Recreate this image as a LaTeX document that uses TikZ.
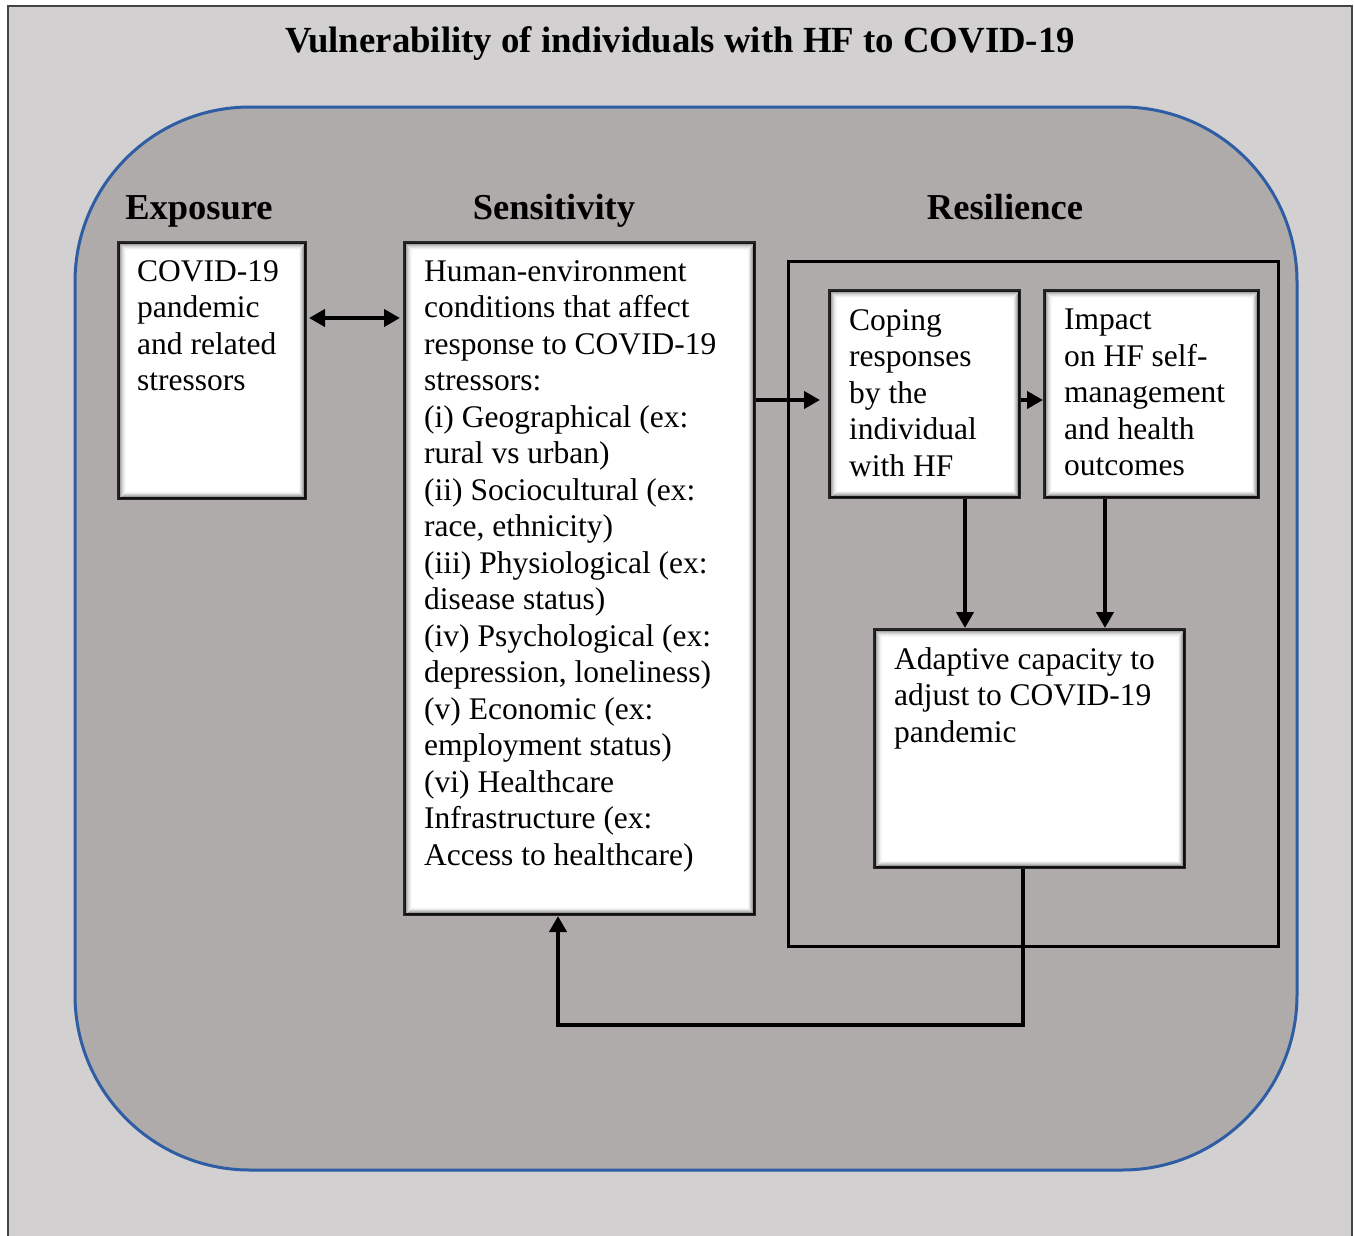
\documentclass[tikz,border=0pt]{standalone}
\usepackage{fontspec}
\setmainfont{Liberation Serif}
\usetikzlibrary{arrows.meta,calc}
\definecolor{pagegrey}{HTML}{D2D0D1}
\definecolor{panelgrey}{HTML}{AFABAA}
\definecolor{rimblue}{HTML}{2F5DA4}
\definecolor{framegrey}{HTML}{444444}
\newcommand{\bevelbox}[1]{%
  \foreach \k/\o in {2/0.45,3/0.34,4/0.25,5/0.17,6/0.11,7/0.06,8/0.03}{%
    \draw[line width=1pt, black, opacity=\o] ([shift={(\k,\k)}]#1.north west) rectangle ([shift={(-\k,-\k)}]#1.south east);}%
  \foreach \k/\o in {2/0.3,3/0.24,4/0.18,5/0.12,6/0.07,7/0.04}{%
    \draw[line width=1pt, black, opacity=\o] ([shift={(\k+1,-\k)}]#1.south west) -- ([shift={(-\k,-\k)}]#1.south east) -- ([shift={(-\k,\k+1)}]#1.north east);}%
}
\tikzset{
  wbox/.style={draw=black!85, line width=3pt, fill=white, rectangle, inner sep=0pt, anchor=north west},
  btext/.style={anchor=north west, inner sep=0pt, align=left, font=\fontsize{31.5}{36.5}\selectfont},
  head/.style={anchor=base, inner sep=0pt, font=\bfseries\fontsize{36.5}{40}\selectfont},
  conn/.style={line width=4.5pt, line join=miter, -{Triangle[length=16pt,width=17pt]}},
  dconn/.style={line width=4.5pt, {Triangle[length=16pt,width=17pt]}-{Triangle[length=16pt,width=17pt]}},
}
\begin{document}
\begin{tikzpicture}[x=1pt,y=-1pt]
\useasboundingbox (0,0) rectangle (1355,1235);
\clip (0,0) rectangle (1355,1235);
\fill[white] (0,0) rectangle (1355,1235);
\draw[framegrey, line width=2pt, fill=pagegrey] (8,6) rectangle (1352,1250);
\draw[fill=panelgrey, draw=rimblue, line width=3pt, rounded corners=175pt] (75,107) rectangle (1297,1170);

\node[head, font=\bfseries\fontsize{36.8}{40}\selectfont] (title) at (680,52) {Vulnerability of individuals with HF to COVID-19};
\node[head] (hexp) at (199,219) {Exposure};
\node[head] (hsen) at (554,219) {Sensitivity};
\node[head] (hres) at (1005,219) {Resilience};

\node[draw=black, line width=2.5pt, rectangle, inner sep=0pt, anchor=north west, minimum width=490, minimum height=685] (resil) at (787,260) {};

\node[wbox, minimum width=187, minimum height=256] (expo) at (117,241) {};
\node[wbox, minimum width=350, minimum height=672] (sens) at (403,241) {};
\node[wbox, minimum width=190, minimum height=207] (coping) at (828,289) {};
\node[wbox, minimum width=214, minimum height=207] (impact) at (1043,289) {};
\node[wbox, minimum width=310, minimum height=238] (adapt) at (873,628) {};
\bevelbox{expo}\bevelbox{sens}\bevelbox{coping}\bevelbox{impact}\bevelbox{adapt}

\node[btext] (expot) at ([shift={(20,19)}]expo.north west) {COVID-19\\pandemic\\and related\\stressors};
\node[btext] (senst) at ([shift={(21,19)}]sens.north west) {Human-environment\\conditions that affect\\response to COVID-19\\stressors:\\(i) Geographical (ex:\\rural vs urban)\\(ii) Sociocultural (ex:\\race, ethnicity)\\(iii) Physiological (ex:\\disease status)\\(iv) Psychological (ex:\\depression, loneliness)\\(v) Economic (ex:\\employment status)\\(vi) Healthcare\\Infrastructure (ex:\\Access to healthcare)};
\node[btext] (copingt) at ([shift={(21,20)}]coping.north west) {Coping\\responses\\by the\\individual\\with HF};
\node[btext] (impactt) at ([shift={(21,20)}]impact.north west) {Impact\\on HF self-\\management\\and health\\outcomes};
\node[btext] (adaptt) at ([shift={(21,19)}]adapt.north west) {Adaptive capacity to\\adjust to COVID-19\\pandemic};

\draw[dconn] ([shift={(2,77)}]expo.north east) -- ([shift={(-3,77)}]sens.north west);
\draw[conn] ([shift={(0,159)}]sens.north east) -- ([shift={(-8,111)}]coping.north west);
\draw[conn] ([shift={(0,111)}]coping.north east) -- ([shift={(0,111)}]impact.north west);
\draw[conn] ([shift={(137,0)}]coping.south west) -- ([shift={(92,0)}]adapt.north west);
\draw[conn] ([shift={(62,0)}]impact.south west) -- ([shift={(232,0)}]adapt.north west);
\coordinate (fb) at (558,1025);
\draw[conn] ([shift={(150,0)}]adapt.south west) |- (fb) -- ([shift={(155,0)}]sens.south west);
\end{tikzpicture}
\end{document}
